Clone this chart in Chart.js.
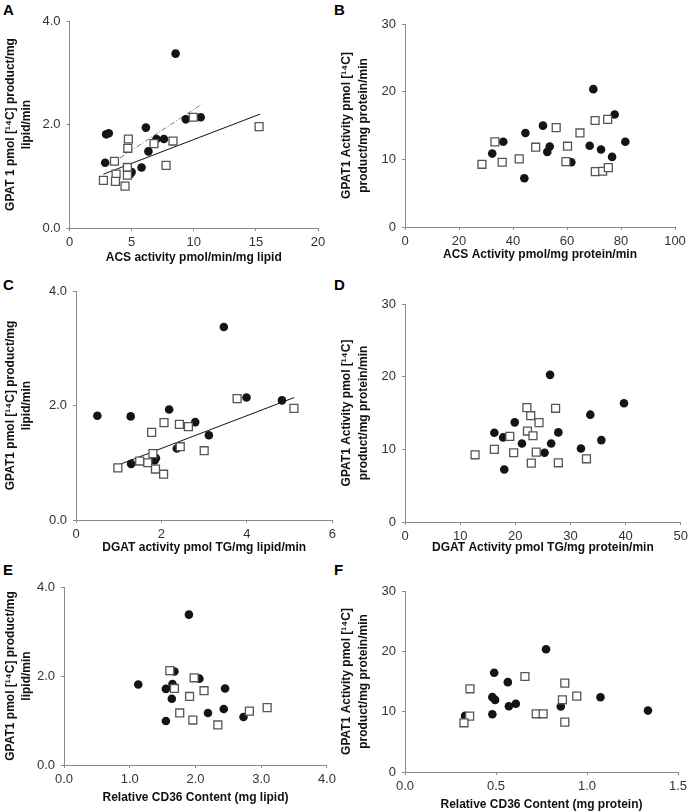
<!DOCTYPE html>
<html>
<head>
<meta charset="utf-8">
<script src="https://cdn.jsdelivr.net/npm/chart.js@4.4.1/dist/chart.umd.min.js"></script>
<style>
  body { margin: 0; background: #fff; }
  #page { position: relative; width: 692px; height: 812px; overflow: hidden; background: #fff; }
  canvas { position: absolute; }
  .lbl { position: absolute; font: bold 15px "Liberation Sans", Arial, sans-serif; line-height: 15px; color: #000; }
</style>
</head>
<body>
<div id="page">
  <div class="lbl" style="left:3px;top:2px">A</div>
  <div class="lbl" style="left:334px;top:2px">B</div>
  <div class="lbl" style="left:3px;top:277px">C</div>
  <div class="lbl" style="left:334px;top:277px">D</div>
  <div class="lbl" style="left:3px;top:562px">E</div>
  <div class="lbl" style="left:334px;top:562px">F</div>
</div>
<script>
// values: [x, y]
// A: GPAT1 (per lipid) vs ACS activity (per lipid)
const aFilled = [[8.54,3.37],[2.95,1.81],[3.16,1.83],[2.87,1.26],[6.15,1.94],[9.36,2.10],[10.56,2.14],
  [7.0,1.72],[7.6,1.72],[6.35,1.48],[5.8,1.17],[4.87,1.04],[5.0,1.08]];
const aOpen = [[4.74,1.72],[4.69,1.54],[3.62,1.29],[6.8,1.63],[8.33,1.68],[9.96,2.14],[15.26,1.96],
  [7.77,1.21],[4.66,1.17],[3.75,1.04],[4.66,1.02],[2.73,0.92],[3.70,0.90],[4.47,0.81]];
const aFitSolid = [[2.73,1.04],[15.33,2.20]];
const aFitDashed = [[3.40,1.25],[10.63,2.39]];

// B: GPAT1 (per protein) vs ACS activity (per protein)
const bFilled = [[69.75,20.37],[77.65,16.63],[51.1,14.98],[44.6,13.9],[36.4,12.6],[81.6,12.6],[53.6,11.9],
  [52.7,11.1],[68.4,12.0],[72.6,11.45],[32.3,10.85],[76.7,10.36],[61.6,9.57],[44.2,7.2]];
const bOpen = [[33.3,12.58],[28.5,9.27],[36.0,9.57],[42.3,10.06],[48.4,11.79],[56.0,14.69],[60.2,11.94],
  [59.6,9.67],[64.8,13.9],[70.4,15.74],[75.06,15.9],[70.5,8.19],[73.2,8.24],[75.3,8.78]];

// C: GPAT1 (per lipid) vs DGAT activity (per lipid)
const cFilled = [[3.46,3.37],[0.50,1.82],[1.28,1.81],[2.18,1.93],[2.79,1.71],[3.11,1.48],[3.99,2.14],
  [4.82,2.09],[2.36,1.25],[1.29,0.98],[1.87,1.08],[1.84,1.04]];
const cOpen = [[3.77,2.12],[5.10,1.95],[2.06,1.70],[2.42,1.67],[2.63,1.63],[1.77,1.53],[2.44,1.28],
  [3.0,1.21],[1.80,1.16],[0.98,0.91],[1.49,1.03],[1.68,1.00],[1.86,0.89],[2.05,0.80]];
const cFit = [[1.02,0.97],[5.11,2.14]];

// D: GPAT1 (per protein) vs DGAT activity (per protein)
const dFilled = [[26.3,20.25],[39.7,16.34],[33.6,14.77],[19.9,13.71],[16.2,12.29],[27.8,12.33],[17.8,11.64],
  [35.6,11.27],[21.2,10.81],[26.5,10.81],[31.9,10.12],[25.3,9.53],[18.0,7.22]];
const dOpen = [[22.1,15.74],[27.3,15.65],[22.8,14.63],[24.3,13.67],[22.2,12.52],[23.2,11.87],[19.0,11.78],
  [16.2,9.99],[19.7,9.53],[23.8,9.62],[12.7,9.25],[22.9,8.10],[27.8,8.15],[32.9,8.70]];

// E: GPAT1 (per lipid) vs CD36 content (per lipid)
const eFilled = [[1.90,3.38],[1.13,1.81],[1.68,2.10],[1.65,1.82],[2.06,1.94],[1.55,1.71],[1.64,1.49],
  [2.45,1.72],[2.43,1.26],[2.19,1.17],[2.73,1.08],[1.55,0.99]];
const eOpen = [[1.61,2.12],[1.98,1.96],[1.68,1.72],[2.13,1.67],[1.91,1.54],[1.76,1.17],[1.96,1.01],
  [2.34,0.90],[2.82,1.21],[3.09,1.29]];

// F: GPAT1 (per protein) vs CD36 content (per protein)
const fFilled = [[0.775,20.35],[0.49,16.44],[0.565,14.89],[0.48,12.41],[0.495,11.95],[0.609,11.31],
  [0.571,10.89],[0.856,10.85],[1.074,12.4],[1.335,10.18],[0.48,9.58],[0.33,9.3]];
const fOpen = [[0.659,15.83],[0.357,13.79],[0.878,14.73],[0.944,12.58],[0.865,11.97],[0.355,9.27],
  [0.324,8.16],[0.721,9.65],[0.759,9.65],[0.878,8.27]];

const FONT = '"Liberation Sans", Arial, sans-serif';
const AXIS = '#8a8a8a';

function pts(arr) { return arr.map(p => ({ x: p[0], y: p[1] })); }

function openSet(arr) {
  return { data: pts(arr), pointStyle: 'rect', pointRadius: 5.6, backgroundColor: '#fff',
    borderColor: '#555', borderWidth: 1.3, order: 0 };
}
function filledSet(arr) {
  return { data: pts(arr), pointStyle: 'circle', pointRadius: 4.3, backgroundColor: '#141414',
    borderColor: '#141414', borderWidth: 0, order: 1 };
}
function fitSet(arr, color, dash) {
  return { data: pts(arr), showLine: true, pointRadius: 0, borderColor: color, borderWidth: 1,
    borderDash: dash || [], fill: false, order: 2 };
}

function axis(o, horiz) {
  return {
    type: 'linear', min: 0, max: o.max,
    ticks: { stepSize: o.step, autoSkip: false, maxRotation: 0, padding: horiz ? 4 : 6,
      color: '#333', font: { family: FONT, size: 13 },
      callback: v => v.toFixed(o.dec) },
    grid: { drawOnChartArea: false, drawTicks: true, tickLength: 3, color: AXIS },
    border: { color: AXIS, width: 1 },
    title: { display: true, text: o.title, color: '#111',
      font: { family: FONT, size: 12, weight: 'bold', lineHeight: horiz ? 1.2 : 1.35 },
      padding: horiz ? { top: 0, bottom: o.pad } : { top: o.pad, bottom: 0 } },
    afterFit: s => { if (horiz) s.height = o.size; else s.width = o.size; }
  };
}

// box = canvas [left, top, width, height]; area = plot area [left, top, right, bottom] in page px
function panel(p) {
  const [bx, by, bw, bh] = p.box;
  const [al, at, ar, ab] = p.area;
  const cv = document.createElement('canvas');
  cv.width = bw; cv.height = bh;
  cv.style.left = bx + 'px'; cv.style.top = by + 'px';
  cv.style.width = bw + 'px'; cv.style.height = bh + 'px';
  document.getElementById('page').appendChild(cv);
  new Chart(cv, {
    type: 'scatter',
    data: { datasets: p.datasets },
    options: {
      responsive: false, animation: false, events: [], devicePixelRatio: 1,
      layout: { padding: { left: 0, top: at - by, right: bx + bw - ar, bottom: 0 } },
      plugins: { legend: { display: false }, tooltip: { enabled: false } },
      scales: {
        x: axis(Object.assign({ size: by + bh - ab, pad: Math.max(0, by + bh - p.xTitleY - 7.2) }, p.x), true),
        y: axis(Object.assign({ size: al - bx, pad: p.yTitleX - bx - 8.1 }, p.y), false)
      }
    }
  });
}

const lipidY = ['GPAT1 pmol [\u00B9\u2074C] product/mg', 'lipid/min'];
const proteinY = ['GPAT1 Activity pmol [\u00B9\u2074C]', 'product/mg protein/min'];

panel({
  box: [0, 0, 340, 268], area: [69.5, 21, 318, 228], xTitleY: 258, yTitleX: 10.5,
  x: { max: 20, step: 5, dec: 0, title: 'ACS activity pmol/min/mg lipid' },
  y: { max: 4, step: 2, dec: 1, title: ['GPAT 1 pmol [\u00B9\u2074C] product/mg', 'lipid/min'] },
  datasets: [openSet(aOpen), filledSet(aFilled), fitSet(aFitSolid, '#111'), fitSet(aFitDashed, '#777', [5, 2, 1, 2])]
});
panel({
  box: [336, 0, 356, 268], area: [405, 24, 675, 227], xTitleY: 255, yTitleX: 347,
  x: { max: 100, step: 20, dec: 0, title: 'ACS Activity pmol/mg protein/min' },
  y: { max: 30, step: 10, dec: 0, title: proteinY },
  datasets: [openSet(bOpen), filledSet(bFilled)]
});
panel({
  box: [0, 268, 340, 292], area: [76, 291, 334, 520], xTitleY: 548, yTitleX: 10.5,
  x: { max: 6, step: 2, dec: 0, title: 'DGAT activity pmol TG/mg lipid/min' },
  y: { max: 4, step: 2, dec: 1, title: lipidY },
  datasets: [openSet(cOpen), filledSet(cFilled), fitSet(cFit, '#111')]
});
panel({
  box: [336, 268, 356, 292], area: [405, 304, 685, 522], xTitleY: 548, yTitleX: 347,
  x: { max: 50, step: 10, dec: 0, title: 'DGAT Activity pmol TG/mg protein/min' },
  y: { max: 30, step: 10, dec: 0, title: proteinY },
  datasets: [openSet(dOpen), filledSet(dFilled)]
});
panel({
  box: [0, 560, 340, 252], area: [64, 587, 328, 765], xTitleY: 798, yTitleX: 10.5,
  x: { max: 4, step: 1, dec: 1, title: 'Relative CD36 Content (mg lipid)' },
  y: { max: 4, step: 2, dec: 1, title: lipidY },
  datasets: [openSet(eOpen), filledSet(eFilled)]
});
panel({
  box: [336, 560, 356, 252], area: [405, 591, 678, 772], xTitleY: 805, yTitleX: 347,
  x: { max: 1.5, step: 0.5, dec: 1, title: 'Relative CD36 Content (mg protein)' },
  y: { max: 30, step: 10, dec: 0, title: proteinY },
  datasets: [openSet(fOpen), filledSet(fFilled)]
});
</script>
</body>
</html>
